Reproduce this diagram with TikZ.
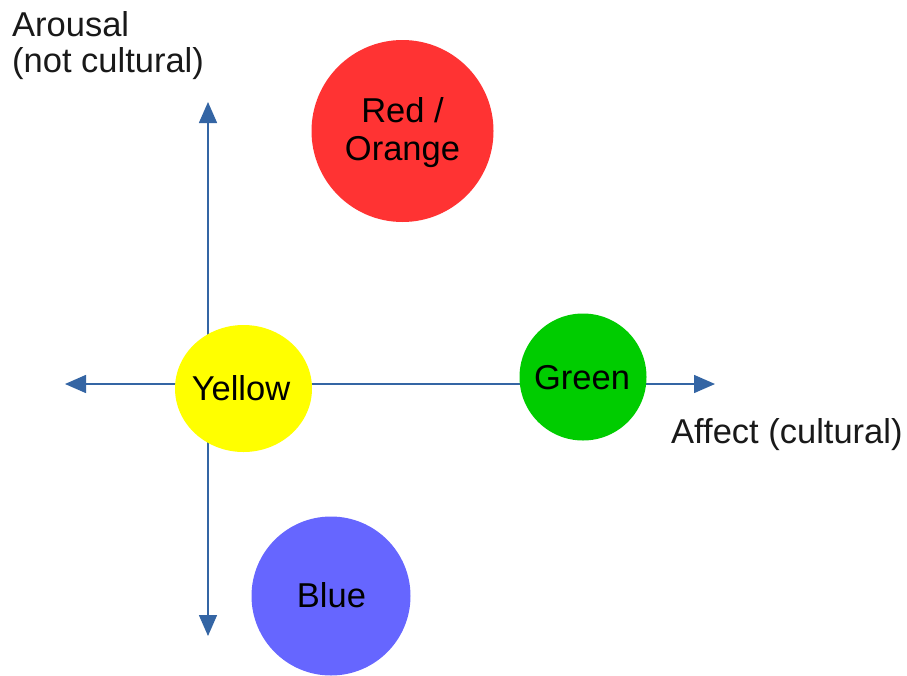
\documentclass[tikz,border=0pt]{standalone}
\usepackage{fontspec}
\setmainfont{Liberation Sans}
\usetikzlibrary{arrows.meta,shapes.geometric}
\definecolor{axisblue}{HTML}{3465A4}
\definecolor{cred}{HTML}{FF3333}
\definecolor{cyellow}{HTML}{FFFF00}
\definecolor{cgreen}{HTML}{00CC00}
\definecolor{cblue}{HTML}{6666FF}
\begin{document}
\begin{tikzpicture}[x=1pt,y=-1pt,
  axis/.style={draw=axisblue,line width=1.5pt,
    {Triangle[length=21pt,width=18pt]}-{Triangle[length=21pt,width=18pt]}},
  blob/.style={ellipse,inner sep=0pt,text=black,align=center,
    font=\fontsize{34.5}{38}\selectfont},
  label/.style={inner sep=0pt,text=black!90,align=left,
    font=\fontsize{34.5}{37}\selectfont}]
\useasboundingbox (0,0) rectangle (907,675);
\fill[white] (0,0) rectangle (907,675);
% axes
\coordinate (top) at (208,102);
\coordinate (bottom) at (208,636);
\coordinate (left) at (65,384);
\coordinate (right) at (715,384);
\draw[axis] (bottom) -- (top);
\draw[axis] (left) -- (right);
% colour blobs
\node[blob,fill=cred,minimum width=182pt,minimum height=182pt] (red) at (402.5,131) {};
\node[blob,fill=cyellow,minimum width=137pt,minimum height=127pt] (yellow) at (243.5,388.5) {};
\node[blob,fill=cgreen,minimum width=127pt,minimum height=127pt] (green) at (583,377) {};
\node[blob,fill=cblue,minimum width=159pt,minimum height=159pt] (blue) at (331,596) {};
% blob labels
\node[blob,anchor=base] (redtxt1) at (402.5,122) {Red /};
\node[blob,anchor=base] (redtxt2) at (402.5,160) {Orange};
\node[blob,anchor=base] (yellowtxt) at (241,400) {Yellow};
\node[blob,anchor=base] (greentxt) at (582,389) {Green};
\node[blob,anchor=base] (bluetxt) at (331.5,607) {Blue};
% axis labels
\node[label,anchor=base west] (ytitle1) at (12,36) {Arousal};
\node[label,anchor=base west] (ytitle2) at (12,72) {(not cultural)};
\node[label,anchor=base west] (xtitle) at (671,443) {Affect (cultural)};
\end{tikzpicture}
\end{document}
